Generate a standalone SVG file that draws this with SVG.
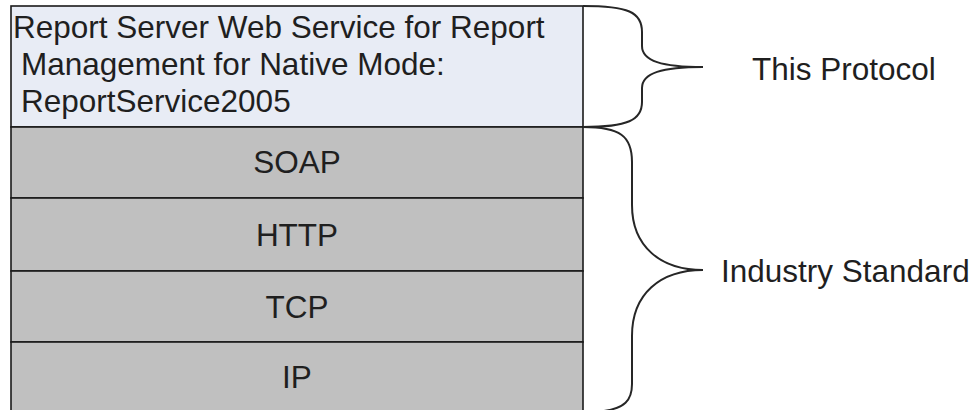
<svg xmlns="http://www.w3.org/2000/svg" width="971" height="410" viewBox="0 0 971 410">
<style>
text{font-family:"Liberation Sans",Arial,sans-serif;font-size:31.5px;fill:#1f1f1f}
.box{stroke:#1a1a1a;stroke-width:1.6}
.layer{fill:#c0c0c0}
.brace{fill:none;stroke:#262626;stroke-width:2}
</style>
<rect width="971" height="410" fill="#fff"/>
<g id="protocol">
<rect class="box" x="11" y="6" width="572" height="121" fill="#e8ecf5"/>
<text x="13" y="38">Report Server Web Service for Report</text>
<text x="21" y="75">Management for Native Mode:</text>
<text x="21" y="112">ReportService2005</text>
</g>
<g id="soap">
<rect class="box layer" x="11" y="127" width="572" height="71"/>
<text x="297" y="173" text-anchor="middle">SOAP</text>
</g>
<g id="http">
<rect class="box layer" x="11" y="198" width="572" height="73"/>
<text x="297" y="246" text-anchor="middle">HTTP</text>
</g>
<g id="tcp">
<rect class="box layer" x="11" y="271" width="572" height="71"/>
<text x="297" y="318" text-anchor="middle">TCP</text>
</g>
<g id="ip">
<rect class="box layer" x="11" y="342" width="572" height="72"/>
<text x="297" y="388" text-anchor="middle">IP</text>
</g>
<g id="connectors">
<path class="brace" d="M583,6 C628,6 642,12 642,32 L642,46 C642,61 662,67 703,67 M703,67 C662,67 642,73 642,88 L642,102 C642,120 628,127 583,127"/>
<path class="brace" d="M583,127 C620,127 632,136 632,162 L632,205 C632,246 660,270 703,270 M703,270 C660,270 632,294 632,336 L632,384 C632,401 624,408 604,411"/>
</g>
<g id="labels">
<text x="752" y="80">This Protocol</text>
<text x="721" y="282">Industry Standard</text>
</g>
</svg>
